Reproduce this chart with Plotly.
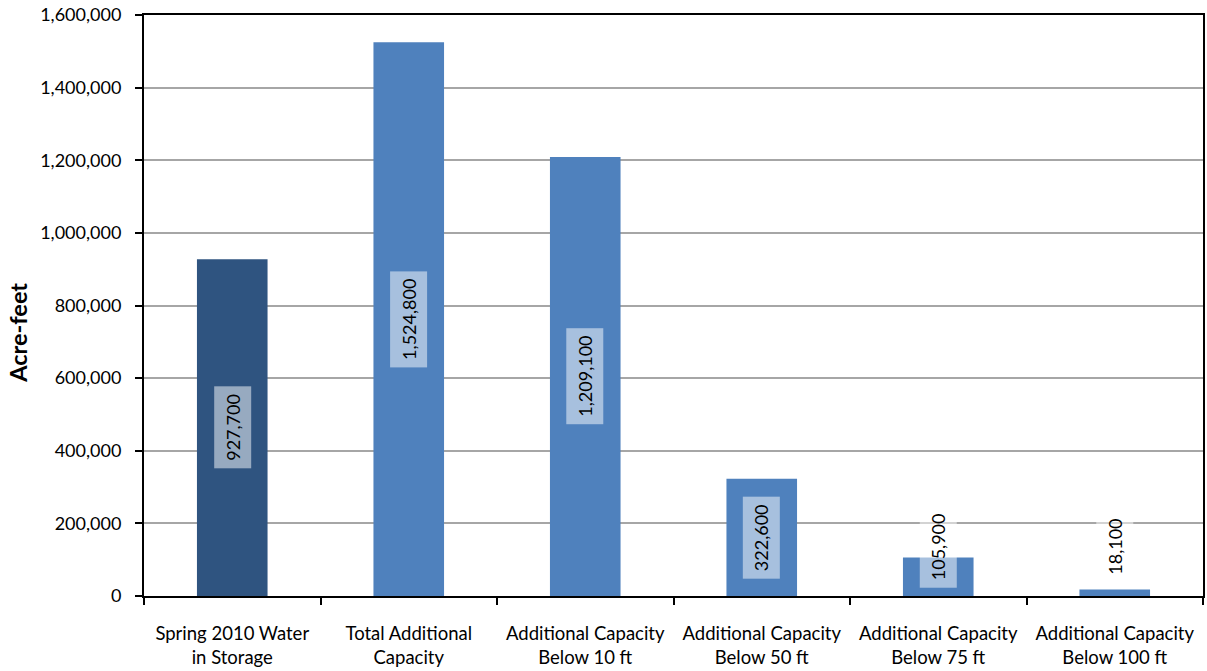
import plotly.graph_objects as go

categories = [
    "Spring 2010 Water<br>in Storage",
    "Total Additional<br>Capacity",
    "Additional Capacity<br>Below 10 ft",
    "Additional Capacity<br>Below 50 ft",
    "Additional Capacity<br>Below 75 ft",
    "Additional Capacity<br>Below 100 ft",
]
values = [927700, 1524800, 1209100, 322600, 105900, 18100]
bar_colors = ["#2F5480", "#4F81BD", "#4F81BD", "#4F81BD", "#4F81BD", "#4F81BD"]
y_ticks = [0, 200000, 400000, 600000, 800000, 1000000, 1200000, 1400000, 1600000]

FONT = "Lato"

fig = go.Figure(
    go.Bar(
        x=categories,
        y=values,
        marker=dict(color=bar_colors, line=dict(width=0)),
        width=0.4,
        hoverinfo="x+y",
    )
)

# value labels, centred on each bar; short bars get their label lifted to fit
min_label_center = 135000
for cat, v in zip(categories, values):
    fig.add_annotation(
        x=cat,
        y=max(v / 2, min_label_center),
        text=f"{v:,}",
        textangle=-90,
        showarrow=False,
        font=dict(family=FONT, size=18, color="#000000"),
        bgcolor="rgba(255,255,255,0.5)",
        borderpad=7,
    )

# y-axis title, placed as a rotated annotation left of the tick labels
fig.add_annotation(
    xref="paper",
    yref="paper",
    x=0,
    y=0.453,
    xanchor="center",
    yanchor="middle",
    xshift=-126,
    text="<b>Acre-feet</b>",
    textangle=-90,
    showarrow=False,
    font=dict(family=FONT, size=23.5, color="#000000"),
)

fig.update_layout(
    width=1207,
    height=671,
    margin=dict(l=144, r=2, t=15, b=75),
    paper_bgcolor="white",
    plot_bgcolor="white",
    showlegend=False,
    font=dict(family=FONT, size=18, color="#000000"),
    bargap=0.6,
)

fig.update_xaxes(
    showline=True,
    linecolor="#000000",
    linewidth=2,
    mirror=True,
    ticks="outside",
    tickson="boundaries",
    ticklen=7,
    tickwidth=2,
    tickcolor="#000000",
    tickfont=dict(family=FONT, size=18.5),
    ticklabelstandoff=20,
    showgrid=False,
)

fig.update_yaxes(
    range=[0, 1600000],
    tickvals=y_ticks,
    ticktext=[f"{t:,}" for t in y_ticks],
    showline=True,
    linecolor="#000000",
    linewidth=2,
    mirror=True,
    ticks="outside",
    ticklen=7,
    tickwidth=2,
    tickcolor="#000000",
    showgrid=True,
    gridcolor="#A6A6A6",
    gridwidth=2,
    zeroline=False,
    tickfont=dict(family=FONT, size=18),
    ticklabelstandoff=10,
)

fig.write_html("out.html")
